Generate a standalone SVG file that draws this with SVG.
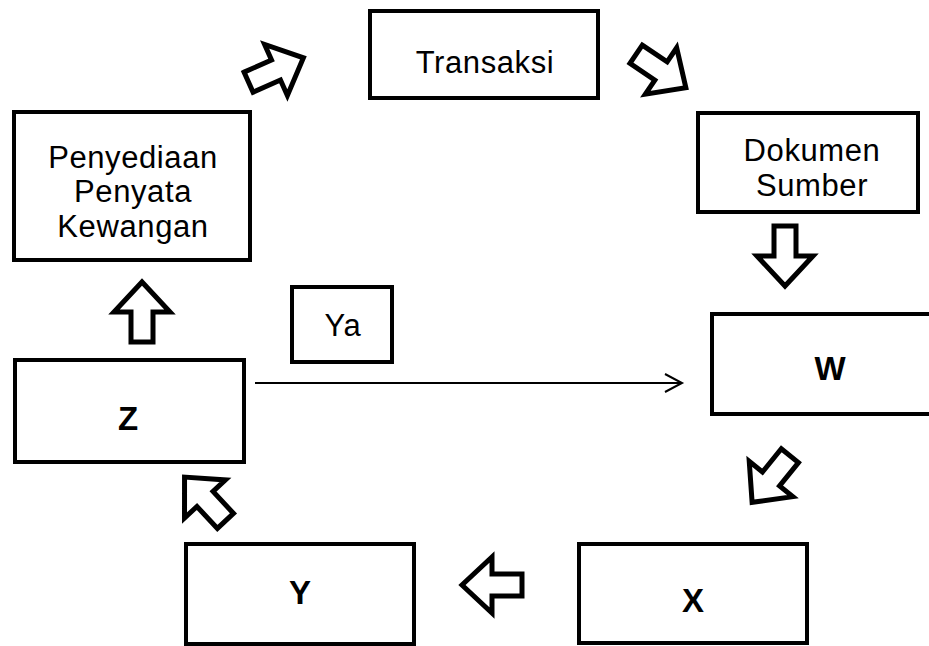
<svg xmlns="http://www.w3.org/2000/svg" width="929" height="646" viewBox="0 0 929 646">
<style>
.box{fill:#fff;stroke:#000;stroke-width:4}
.t{font-family:"Liberation Sans",Arial,sans-serif;font-size:31px;letter-spacing:0.6px;fill:#000;text-anchor:middle}
.b{font-weight:bold;font-size:33px;letter-spacing:0}
.ba{fill:#fff;stroke:#000;stroke-width:5;stroke-linejoin:miter}
.ln{fill:none;stroke:#000;stroke-width:2}
</style>
<defs>
<polygon id="blk" points="-30,-11 0,-11 0,-28 30,0 0,28 0,11 -30,11"/>
</defs>
<rect width="929" height="646" fill="#fff"/>
<g id="transaksi"><rect class="box" x="370" y="11" width="228" height="87"/><text class="t" x="485" y="73">Transaksi</text></g>
<g id="penyediaan"><rect class="box" x="14" y="112" width="236" height="148"/><text class="t" x="133" y="168">Penyediaan</text><text class="t" x="133" y="202">Penyata</text><text class="t" x="133" y="237">Kewangan</text></g>
<g id="dokumen"><rect class="box" x="698" y="113" width="220" height="99"/><text class="t" x="812" y="161">Dokumen</text><text class="t" x="812" y="196">Sumber</text></g>
<g id="ya"><rect class="box" x="292" y="287" width="100" height="75"/><text class="t" x="343" y="336">Ya</text></g>
<g id="w"><rect class="box" x="712" y="314" width="230" height="100"/><text class="t b" x="830" y="380">W</text></g>
<g id="z"><rect class="box" x="15" y="360" width="229" height="102"/><text class="t b" x="128" y="430">Z</text></g>
<g id="y"><rect class="box" x="186" y="544" width="228" height="100"/><text class="t b" x="300" y="604">Y</text></g>
<g id="x"><rect class="box" x="579" y="544" width="228" height="99"/><text class="t b" x="693" y="612">X</text></g>
<g id="connectors">
<use href="#blk" class="ba" transform="translate(276,70) rotate(-24)"/>
<use href="#blk" class="ba" transform="translate(661,71) rotate(34)"/>
<use href="#blk" class="ba" transform="translate(785,256) rotate(90)"/>
<use href="#blk" class="ba" transform="translate(771,479) rotate(129)"/>
<use href="#blk" class="ba" transform="translate(492,585) rotate(180)"/>
<use href="#blk" class="ba" transform="translate(205,499) rotate(-133)"/>
<use href="#blk" class="ba" transform="translate(142,312) rotate(-90)"/>
<line class="ln" x1="255" y1="383" x2="682" y2="383"/>
<polyline class="ln" points="665,374 682,383 665,392"/>
</g>
</svg>
